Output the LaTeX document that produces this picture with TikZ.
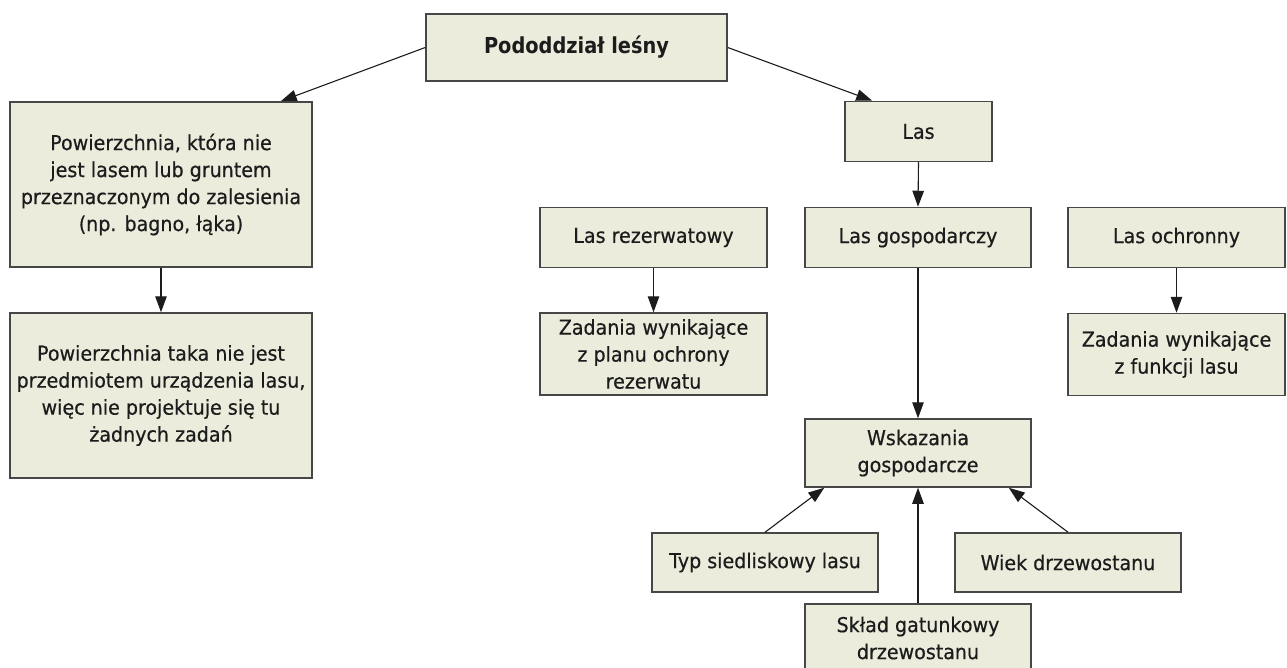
\documentclass[tikz,border=0pt]{standalone}
\usepackage{fontspec}
\setmainfont{DejaVu Sans}[FakeStretch=0.93,FakeBold=0.5]
\newfontfamily\titlefont{DejaVu Sans}[FakeStretch=0.88]
\usetikzlibrary{arrows.meta,calc}
\definecolor{boxfill}{HTML}{ECECDD}
\definecolor{boxline}{HTML}{474747}
\definecolor{txt}{HTML}{1C1C1C}
\begin{document}
\begin{tikzpicture}[x=1pt,y=-1pt,
  box/.style={draw=boxline,fill=boxfill,line width=1.5pt,rectangle,inner sep=0pt,
    align=center,text=txt,font=\fontsize{20.5}{27}\selectfont},
  arr/.style={draw=txt,line width=1.1pt,-{Triangle[length=16pt,width=11.5pt]}}]
\useasboundingbox (0,0) rectangle (1287,668);
\node[box,minimum width=301pt,minimum height=67pt,font=\titlefont\fontsize{22}{27}\selectfont\bfseries] (top) at (576.5,47.5) {Pododdział leśny};
\node[box,minimum width=302pt,minimum height=165pt] (l1) at (161,184.5) {Powierzchnia, która nie\\jest lasem lub gruntem\\przeznaczonym do zalesienia\\(np. bagno, łąka)};
\node[box,minimum width=302pt,minimum height=165pt] (l2) at (161,395.5) {Powierzchnia taka nie jest\\przedmiotem urządzenia lasu,\\więc nie projektuje się tu\\żadnych zadań};
\node[box,minimum width=147pt,minimum height=60pt] (las) at (918.5,131.5) {Las};
\node[box,minimum width=227pt,minimum height=60pt] (lrez) at (653.5,237.5) {Las rezerwatowy};
\node[box,minimum width=226pt,minimum height=60pt] (lgosp) at (918,237.5) {Las gospodarczy};
\node[box,minimum width=217pt,minimum height=60pt] (loch) at (1176.5,237.5) {Las ochronny};
\node[box,minimum width=227pt,minimum height=82pt] (zrez) at (653.5,354) {Zadania wynikające\\z planu ochrony\\rezerwatu};
\node[box,minimum width=217pt,minimum height=82pt] (zfun) at (1176.5,354.5) {Zadania wynikające\\z funkcji lasu};
\node[box,minimum width=226pt,minimum height=68pt] (wsk) at (918,453) {Wskazania\\gospodarcze};
\node[box,minimum width=226pt,minimum height=59pt] (typ) at (765,562.5) {Typ siedliskowy lasu};
\node[box,minimum width=226pt,minimum height=59pt] (wiek) at (1068,562.5) {Wiek drzewostanu};
\node[box,minimum width=226pt,minimum height=68pt] (sklad) at (918,638) {Skład gatunkowy\\drzewostanu};
\draw[arr] (top.west) -- ($(l1.north east)+(-32,0)$);
\draw[arr] (top.east) -- ($(las.north west)+(28,0)$);
\draw[arr] (l1.south) -- (l2.north);
\draw[arr] (las.south) -- (lgosp.north);
\draw[arr] (lrez.south) -- (zrez.north);
\draw[arr] (loch.south) -- (zfun.north);
\draw[arr] (lgosp.south) -- (wsk.north);
\draw[arr] (sklad.north) -- (wsk.south);
\draw[arr] (typ.north) -- ($(wsk.south west)+(20,0)$);
\draw[arr] (wiek.north) -- ($(wsk.south east)+(-23,0)$);
\end{tikzpicture}
\end{document}
